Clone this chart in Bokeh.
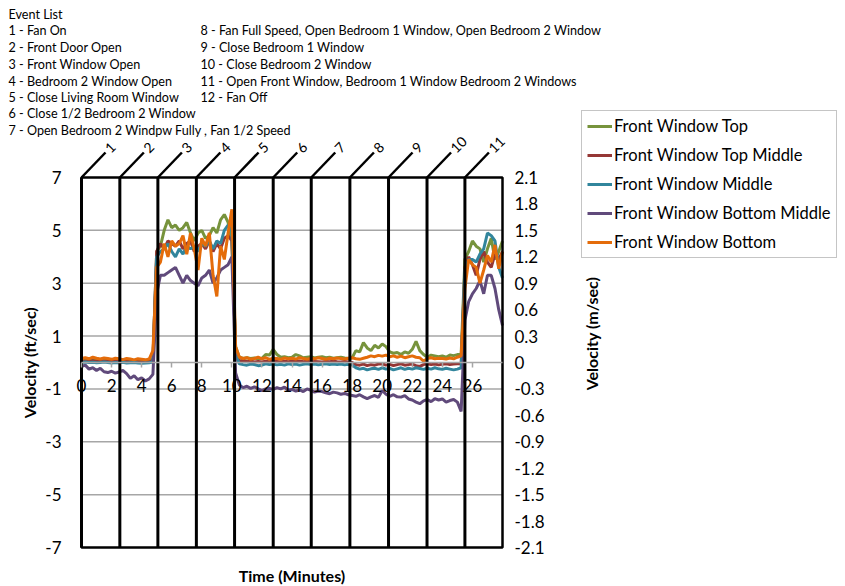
import math
from bokeh.plotting import figure
from bokeh.models import (Range1d, LinearAxis, FixedTicker, Label, Legend, LegendItem,
                          CustomJSTickFormatter)
from bokeh.embed import file_html
from bokeh.resources import INLINE

# ---------------- data ----------------
time_min = [i * 0.25 for i in range(113)]  # 0 .. 28 minutes

front_window_top = [
    0.08, 0.10, 0.09, 0.11, 0.08, 0.07, 0.09, 0.10, 0.08, 0.06, 0.09, 0.07,
    0.05, 0.08, 0.06, 0.07, 0.05, 0.06, 0.08, 0.12,
    4.2, 4.4, 5.0, 5.4, 5.1, 5.2, 5.0, 5.1, 5.3, 4.9, 4.6, 4.9,
    5.0, 4.7, 4.8, 5.1, 4.9, 5.4, 5.6, 5.3,
    4.6, 0.6, 0.20, 0.15, 0.18, 0.15, 0.17, 0.14, 0.16, 0.30, 0.28, 0.50,
    0.30, 0.20, 0.22, 0.18, 0.20, 0.30, 0.25, 0.18, 0.20, 0.22, 0.17, 0.20,
    0.22, 0.18, 0.20, 0.16, 0.18, 0.20, 0.17, 0.15, 0.18, 0.45, 0.40, 0.75,
    0.55, 0.45, 0.65, 0.55, 0.70, 0.60, 0.40, 0.35, 0.38, 0.30, 0.40, 0.35,
    0.50, 0.80, 0.45, 0.30, 0.20, 0.28, 0.25, 0.22, 0.25, 0.20, 0.28, 0.26,
    0.30, 0.30, 3.9, 4.2, 4.6, 4.4, 4.3, 3.8, 4.3, 4.7, 3.9, 4.2, 4.6]

front_window_top_middle = [
    0.05, 0.06, 0.05, 0.07, 0.05, 0.04, 0.06, 0.05, 0.04, 0.05, 0.03, 0.05,
    0.04, 0.02, 0.04, 0.03, 0.02, 0.03, 0.04, 0.08,
    4.2, 4.5, 4.3, 4.6, 4.5, 4.4, 4.6, 4.3, 4.5, 4.6, 4.2, 4.4,
    4.5, 4.3, 4.6, 4.2, 4.5, 4.3, 4.7, 4.8,
    4.6, 0.5, 0.05, 0.08, 0.03, 0.06, 0.02, 0.04, 0.02, 0.05, 0.03, 0.06,
    0.04, 0.02, 0.05, 0.03, 0.05, 0.04, 0.06, 0.03, 0.05, 0.02, 0.04, 0.03,
    0.02, 0.04, 0.03, 0.05, 0.03, 0.02, 0.04, 0.02, 0.00, -0.08, -0.10, -0.06,
    -0.12, -0.08, -0.10, -0.06, -0.05, -0.10, -0.07, -0.12, -0.08, -0.05, -0.10, -0.08,
    -0.06, -0.12, -0.15, -0.08, -0.05, -0.08, -0.06, -0.09, -0.07, -0.05, -0.08, -0.06,
    -0.05, -0.05, 3.6, 4.0, 3.7, 3.3, 3.9, 4.2, 3.8, 3.6, 4.1, 3.9, 4.2]

front_window_middle = [
    0.00, 0.02, 0.00, 0.01, -0.01, 0.00, 0.02, 0.00, -0.02, 0.00, -0.01, 0.01,
    -0.02, -0.01, 0.00, -0.02, -0.03, -0.02, -0.01, 0.02,
    4.0, 4.2, 4.3, 4.5, 4.2, 4.0, 4.3, 4.1, 4.4, 4.3, 4.4, 4.2,
    4.5, 4.4, 4.6, 4.3, 4.6, 4.5, 5.0, 5.2,
    5.0, 0.3, -0.05, -0.08, -0.10, -0.06, -0.08, -0.12, -0.10, -0.05, -0.08, -0.06,
    -0.09, -0.07, -0.10, -0.05, -0.08, -0.06, -0.10, -0.07, -0.05, -0.08, -0.06, -0.09,
    -0.07, -0.05, -0.08, -0.06, -0.08, -0.06, -0.09, -0.07, -0.10, -0.20, -0.25, -0.22,
    -0.28, -0.24, -0.22, -0.26, -0.20, -0.25, -0.22, -0.28, -0.24, -0.20, -0.26, -0.22,
    -0.25, -0.20, -0.23, -0.26, -0.22, -0.25, -0.20, -0.24, -0.26, -0.22, -0.25, -0.28,
    -0.25, -0.20, 3.5, 3.9, 3.9, 3.8, 4.1, 4.3, 4.9, 4.8, 4.6, 3.6, 3.2]

front_window_bottom_middle = [
    -0.15, -0.10, -0.25, -0.20, -0.30, -0.22, -0.35, -0.38, -0.33, -0.40, -0.36, -0.30,
    -0.42, -0.60, -0.50, -0.65, -0.58, -0.70, -0.62, -0.45,
    2.6, 3.3, 3.3, 3.4, 3.5, 3.6, 3.3, 3.0, 3.3, 3.1, 3.0, 2.9,
    3.2, 3.3, 3.5, 3.0, 3.2, 3.5, 3.6, 3.7,
    4.0, -0.4, -0.85, -0.95, -0.90, -0.98, -0.92, -1.00, -1.06, -1.00, -0.98, -1.02,
    -0.95, -1.00, -0.93, -1.05, -1.02, -1.08, -1.04, -1.10, -1.00, -1.05, -1.12, -1.08,
    -1.10, -1.15, -1.18, -1.12, -1.15, -1.20, -1.17, -1.22, -1.25, -1.28, -1.22, -1.30,
    -1.37, -1.30, -1.25, -1.32, -1.06, -1.20, -1.28, -1.22, -1.30, -1.31, -1.25, -1.38,
    -1.42, -1.50, -1.56, -1.45, -1.40, -1.48, -1.37, -1.42, -1.38, -1.50, -1.44, -1.40,
    -1.50, -1.85, 1.6, 2.3, 2.6, 2.8, 3.1, 2.6, 3.3, 3.3, 2.8, 2.0, 1.4]

front_window_bottom = [
    0.15, 0.18, 0.14, 0.20, 0.16, 0.13, 0.17, 0.15, 0.12, 0.16, 0.14, 0.11,
    0.15, 0.13, 0.10, 0.14, 0.12, 0.10, 0.13, 0.45,
    3.6, 3.8, 4.5, 4.0, 4.6, 4.4, 4.5, 4.8, 4.1, 4.9, 4.3, 3.5,
    4.7, 4.4, 4.9, 3.3, 2.5, 4.4, 3.9, 4.9,
    5.8, 0.6, 0.20, 0.15, 0.18, 0.12, 0.15, 0.20, 0.14, 0.18, 0.12, 0.16,
    0.15, 0.12, 0.17, 0.14, 0.16, 0.13, 0.18, 0.15, 0.12, 0.16, 0.14, 0.18,
    0.15, 0.12, 0.16, 0.14, 0.17, 0.15, 0.13, 0.16, 0.18, 0.14, 0.12, 0.16,
    0.20, 0.25, 0.22, 0.27, 0.24, 0.28, 0.22, 0.25, 0.20, 0.24, 0.18, 0.22,
    0.25, 0.20, 0.18, 0.05, 0.15, 0.18, 0.14, 0.16, 0.15, 0.13, 0.17, 0.14,
    0.20, 0.25, 2.8, 3.9, 3.7, 3.6, 3.0, 3.5, 4.05, 3.8, 4.45, 3.55, 4.2]

series_names = ["Front Window Top", "Front Window Top Middle", "Front Window Middle",
                "Front Window Bottom Middle", "Front Window Bottom"]
series_values = [front_window_top, front_window_top_middle, front_window_middle,
                 front_window_bottom_middle, front_window_bottom]
series_colors = ["#77933C", "#953735", "#31859C", "#604A7B", "#E46C0A"]

event_times = [0, 2.55, 5.08, 7.64, 10.18, 12.75, 15.28, 17.85, 20.42, 22.98, 25.5]
event_numbers = ["1", "2", "3", "4", "5", "6", "7", "8", "9", "10", "11"]

event_list_title = "Event List"
event_list_left = ["1 - Fan On", "2 - Front Door Open", "3 - Front Window Open",
                   "4 - Bedroom 2 Window Open", "5 - Close Living Room Window",
                   "6 - Close 1/2 Bedroom 2 Window",
                   "7 - Open Bedroom 2 Windpw Fully , Fan 1/2 Speed"]
event_list_right = ["8 - Fan Full Speed, Open Bedroom  1 Window, Open Bedroom 2 Window",
                    "9 - Close Bedroom 1 Window", "10 - Close Bedroom 2 Window",
                    "11 - Open Front Window, Bedroom 1 Window Bedroom 2 Windows",
                    "12 - Fan Off"]

x_ticks = [0, 2, 4, 6, 8, 10, 12, 14, 16, 18, 20, 22, 24, 26]
y_ticks_ft = [-7, -5, -3, -1, 1, 3, 5, 7]
y_ticks_m = [-2.1, -1.8, -1.5, -1.2, -0.9, -0.6, -0.3, 0, 0.3, 0.6, 0.9, 1.2, 1.5, 1.8, 2.1]
X_MIN, X_MAX, Y_MIN, Y_MAX = 0, 28, -7, 7
M_MIN, M_MAX = -2.1, 2.1

# ---------------- layout (page pixels) ----------------
W, H = 845, 586
BOX_L, BOX_T, BOX_R, BOX_B = 81, 177, 502, 547
SX = (BOX_R - BOX_L) / (X_MAX - X_MIN)
SY = (BOX_B - BOX_T) / (Y_MAX - Y_MIN)


def dx(px):
    return X_MIN + (px - BOX_L) / SX


def dy(py):
    return Y_MAX - (py - BOX_T) / SY


FONT = "Lato"

p = figure(frame_width=W, frame_height=H, min_border=0,
           x_range=Range1d(dx(0), dx(W)), y_range=Range1d(dy(H), dy(0)),
           output_backend="svg", toolbar_location=None)
p.outline_line_color = None
p.background_fill_color = "white"
p.border_fill_color = "white"
p.xgrid.visible = False
p.ygrid.visible = False

mscale = (M_MAX - M_MIN) / (Y_MAX - Y_MIN)
p.extra_y_ranges = {"ms": Range1d(dy(H) * mscale, dy(0) * mscale)}

# x axis drawn at y = 0
xa = p.xaxis[0]
xa.fixed_location = 0
xa.bounds = (X_MIN, X_MAX)
xa.ticker = FixedTicker(ticks=x_ticks)
xa.axis_line_color = "#A6A6A6"
xa.axis_line_width = 1.5
xa.major_tick_line_color = "#A6A6A6"
xa.major_tick_line_width = 1.5
xa.major_tick_out = 5
xa.major_tick_in = 0
xa.minor_tick_line_color = None
xa.major_label_text_font = FONT
xa.major_label_text_font_size = "17px"
xa.major_label_text_color = "black"
xa.major_label_standoff = 11

# left axis (ft/sec)
ya = p.yaxis[0]
ya.fixed_location = X_MIN
ya.bounds = (Y_MIN, Y_MAX)
ya.ticker = FixedTicker(ticks=y_ticks_ft)
ya.formatter = CustomJSTickFormatter(code="return tick.toFixed(0)")
ya.axis_line_color = None
ya.major_tick_line_color = None
ya.minor_tick_line_color = None
ya.major_label_text_font = FONT
ya.major_label_text_font_size = "17px"
ya.major_label_text_color = "black"
ya.major_label_standoff = 14
ya.axis_label = "Velocity (ft/sec)"
ya.axis_label_text_font = FONT
ya.axis_label_text_font_size = "16px"
ya.axis_label_text_font_style = "bold"
ya.axis_label_text_color = "black"
ya.axis_label_standoff = 3

# right axis (m/sec)
ra = LinearAxis(y_range_name="ms", ticker=FixedTicker(ticks=y_ticks_m))
ra.fixed_location = X_MAX
ra.bounds = (M_MIN, M_MAX)
ra.formatter = CustomJSTickFormatter(
    code="return Math.abs(tick) < 1e-9 ? '0' : tick.toFixed(1)")
ra.axis_line_color = None
ra.major_tick_line_color = None
ra.minor_tick_line_color = None
ra.major_label_text_font = FONT
ra.major_label_text_font_size = "17px"
ra.major_label_text_color = "black"
ra.major_label_standoff = 6
p.add_layout(ra, "right")

# horizontal grid lines inside the plot box
p.segment(x0=X_MIN, x1=X_MAX, y0=y_ticks_ft[1:-1], y1=y_ticks_ft[1:-1],
          line_color="#A6A6A6", line_width=1.5)

# series
items = []
for name, vals, col in zip(series_names, series_values, series_colors):
    r = p.line(time_min, vals, line_color=col, line_width=3)
    items.append(LegendItem(label=name, renderers=[r]))

# plot box
p.quad(left=X_MIN, right=X_MAX, bottom=Y_MIN, top=Y_MAX, fill_color=None,
       line_color="black", line_width=2.5)

# event markers
diag_dx = 24 / SX
diag_dy = 25 / SY
p.segment(x0=event_times, x1=event_times, y0=Y_MIN, y1=Y_MAX,
          line_color="black", line_width=3)
p.segment(x0=event_times, y0=Y_MAX, x1=[t + diag_dx for t in event_times],
          y1=Y_MAX + diag_dy, line_color="black", line_width=2.5)
p.text(x=[t + 26 / SX for t in event_times], y=Y_MAX + 27 / SY, text=event_numbers,
       angle=math.pi / 4, text_align="left", text_baseline="middle",
       text_font={"value": FONT}, text_font_size="14px", text_color="black")


def add_label(px, py, txt, size="12.6px", style="normal", align="left", angle=0.0):
    p.add_layout(Label(x=dx(px), y=dy(py), text=txt, text_align=align,
                       text_baseline="middle", angle=angle, text_font=FONT,
                       text_font_size=size, text_font_style=style, text_color="black"))


# event list
add_label(8, 14, event_list_title)
row_y = [30, 47, 64, 81, 97, 113, 130]
for i, s in enumerate(event_list_left):
    add_label(8, row_y[i], s)
for i, s in enumerate(event_list_right):
    add_label(200, row_y[i], s)

# axis titles
add_label((BOX_L + BOX_R) / 2, 575, "Time (Minutes)", size="16px", style="bold",
          align="center")
add_label(591, 333, "Velocity (m/sec)", size="16px", style="bold", align="center",
          angle=math.pi / 2)

legend = Legend(items=items, location=(581, H - 258))
legend.label_text_font = FONT
legend.label_text_font_size = "16.5px"
legend.label_text_color = "black"
legend.label_height = 20
legend.glyph_height = 20
legend.glyph_width = 25
legend.label_standoff = 2
legend.spacing = 9
legend.padding = 5
legend.margin = 0
legend.border_line_color = "#8C8C8C"
legend.border_line_width = 1
legend.background_fill_color = "white"
legend.background_fill_alpha = 1
p.add_layout(legend)

open("out.html", "w").write(file_html(p, INLINE))
